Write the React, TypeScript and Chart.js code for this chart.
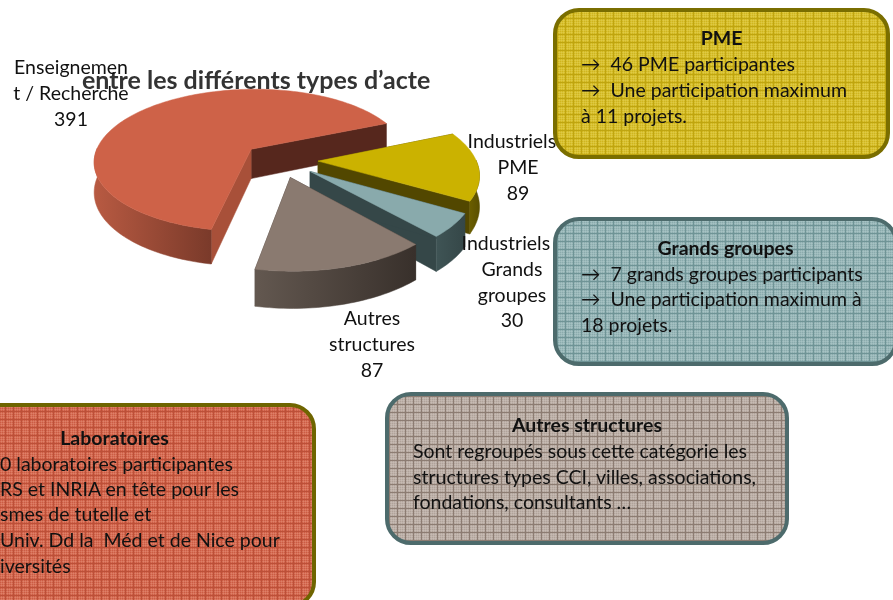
import React, { useEffect, useRef } from "react";
import { Chart, registerables } from "chart.js";

Chart.register(...registerables);

// ---- data ----
const categories = ["Enseignement / Recherche", "Industriels - PME", "Industriels - Grands groupes", "Autres structures"];
const values = [391, 89, 30, 87];
const titleText = "entre les différents types d’acte";
const labelLines = [
  ["Enseignemen", "t / Recherche", "391"],
  ["Industriels -", "PME", "89"],
  ["Industriels -", "Grands", "groupes", "30"],
  ["Autres", "structures", "87"],
];
// ---- slice styles ----
const topColors = ["#CE6248", "#CBB200", "#89AAAC", "#8A7A70"];
const wallStart = ["#A85039", "#524700", "#354748", "#3D332D"];
const wallEnd = ["#56271D", "#524700", "#354748", "#3D332D"];
const wallGradL = ["#B85A42", "#6A5D00", "#3F5455", "#635850"];
const wallGradR = ["#7A3A2A", "#5A4F00", "#354748", "#38302B"];
// ---- label layout: centre x, first-line y ----
const labelAnchors = [
  [71, 68],
  [518, 142],
  [512, 244],
  [372, 319],
];

const FONT = "Lato, 'Open Sans', sans-serif";
const P = 0.001; // perspective strength
const K = 0.46; // vertical squash
const DEPTH = 30;

const pie3d = {
  id: "pie3d",
  beforeDatasetDraw(chart: any) {
    const ctx = chart.ctx;
    const arcs = chart.getDatasetMeta(0).data;
    const proj = (cx: number, cy: number, u: number, v: number, d: number) => {
      const w = 1 - v * P;
      return [cx + u / w, cy + (v * K + d) / w];
    };
    arcs.forEach((arc: any, i: number) => {
      const { x, y, startAngle, endAngle, outerRadius } = arc.getProps(["x", "y", "startAngle", "endAngle", "outerRadius"], true);
      const off = arc.options.offset || 0;
      const mid = (startAngle + endAngle) / 2;
      const ox = Math.cos(mid) * off;
      const oy = Math.sin(mid) * off;
      const n = Math.max(8, Math.ceil((endAngle - startAngle) * 40));
      const rim: number[][] = [];
      const front: number[][] = [];
      for (let j = 0; j <= n; j++) {
        const a = startAngle + ((endAngle - startAngle) * j) / n;
        const q = [ox + Math.cos(a) * outerRadius, oy + Math.sin(a) * outerRadius];
        rim.push(q);
        if (Math.sin(a) >= -0.02) front.push(q);
      }
      const p = (q: number[], d: number) => proj(x, y, q[0], q[1], d);
      const poly = (pts: number[][], fill: any) => {
        ctx.beginPath();
        pts.forEach((t, k) => (k ? ctx.lineTo(t[0], t[1]) : ctx.moveTo(t[0], t[1])));
        ctx.closePath();
        ctx.fillStyle = fill;
        ctx.fill();
        ctx.strokeStyle = fill;
        ctx.lineWidth = 0.5;
        ctx.stroke();
      };
      const apex = [ox, oy];
      const first = rim[0];
      const last = rim[n];
      // radial walls
      poly([p(apex, 0), p(last, 0), p(last, DEPTH), p(apex, DEPTH)], wallEnd[i]);
      poly([p(apex, 0), p(first, 0), p(first, DEPTH), p(apex, DEPTH)], wallStart[i]);
      // outer wall: only the part that faces the viewer
      if (front.length > 1) {
        const xs = front.map((q) => p(q, 0)[0]);
        const x0 = Math.min(...xs);
        const x1 = Math.max(...xs);
        const g = ctx.createLinearGradient(x0, 0, x1, 0);
        g.addColorStop(0, wallGradL[i]);
        g.addColorStop(1, wallGradR[i]);
        const wall = front.map((q) => p(q, 0)).concat(front.slice().reverse().map((q) => p(q, DEPTH)));
        poly(wall, g);
      }
      // top face
      poly([p(apex, 0), ...rim.map((q) => p(q, 0))], arc.options.backgroundColor);
    });
    return false;
  },
};

const sliceLabels = {
  id: "sliceLabels",
  afterDatasetsDraw(chart: any) {
    const ctx = chart.ctx;
    ctx.save();
    ctx.font = `19.5px ${FONT}`;
    ctx.fillStyle = "#111";
    ctx.textAlign = "center";
    ctx.textBaseline = "middle";
    labelLines.forEach((lines, i) => {
      lines.forEach((t, j) => ctx.fillText(t, labelAnchors[i][0], labelAnchors[i][1] + j * 25.7));
    });
    ctx.restore();
  },
};

const grid = (line: string, dot: string) =>
  [
    `repeating-linear-gradient(0deg, ${line} 0 1px, transparent 1px 8px)`,
    `repeating-linear-gradient(90deg, ${line} 0 1px, transparent 1px 8px)`,
    `repeating-linear-gradient(0deg, ${dot} 0 1px, transparent 1px 2px)`,
    `repeating-linear-gradient(90deg, ${dot} 0 1px, transparent 1px 2px)`,
  ].join(",");

type BoxProps = {
  left: number;
  top: number;
  width: number;
  height: number;
  border: string;
  fill: string;
  line: string;
  dot: string;
};

function Box({ left, top, width, height, border, fill, line, dot }: BoxProps) {
  return (
    <div
      style={{
        position: "absolute",
        left,
        top,
        width,
        height,
        boxSizing: "border-box",
        border: `4px solid ${border}`,
        borderRadius: 26,
        backgroundColor: fill,
        backgroundImage: grid(line, dot),
      }}
    />
  );
}

const lineStyle = (x: number, y: number, bold = false, w?: number): React.CSSProperties => ({
  position: "absolute",
  left: x,
  top: y,
  width: w,
  textAlign: bold ? "center" : "left",
  fontWeight: bold ? 700 : 400,
  whiteSpace: "pre",
  lineHeight: "26px",
});

// text placed at absolute page coordinates, on top of all boxes
function T({ x, y, bold, w, children }: { x: number; y: number; bold?: boolean; w?: number; children: React.ReactNode }) {
  return <div style={lineStyle(x, y - 13, bold, w)}>{children}</div>;
}

export default function App() {
  const ref = useRef<HTMLCanvasElement>(null);
  useEffect(() => {
    const chart = new Chart(ref.current as HTMLCanvasElement, {
      type: "pie",
      data: {
        labels: categories,
        datasets: [{ data: values, backgroundColor: topColors, borderWidth: 0, offset: 38 } as any],
      },
      options: {
        responsive: false,
        animation: false,
        events: [],
        rotation: 191,
        radius: 158,
        layout: { padding: { left: 82, right: 415, top: 0, bottom: 376 } },
        plugins: {
          legend: { display: false },
          tooltip: { enabled: false },
          title: {
            display: true,
            text: titleText,
            align: "start",
            color: "#333333",
            font: { family: FONT, size: 25, weight: "bold", lineHeight: 1.2 },
            padding: { top: 66, bottom: 0 },
          },
        },
      } as any,
      plugins: [pie3d, sliceLabels],
    });
    return () => chart.destroy();
  }, []);
  return (
    <div style={{ position: "fixed", left: 0, top: 0, width: 893, height: 600, overflow: "hidden", background: "#fff", fontFamily: FONT, fontSize: 19.5, color: "#111" }}>
      <canvas ref={ref} width={893} height={600} style={{ position: "absolute", left: 0, top: 0 }} />
      <Box left={553} top={8} width={337} height={151} border="#7A6E00" fill="#D0B61E" line="#BFA510" dot="rgba(240,225,110,0.28)" />
      <Box left={553} top={217} width={345} height={149} border="#4D6B6C" fill="#8BABAD" line="#6F9496" dot="rgba(190,215,215,0.32)" />
      <Box left={385} top={392} width={404} height={153} border="#4D6B6C" fill="#B0A39A" line="#8C7C72" dot="rgba(215,205,198,0.35)" />
      <Box left={-87} top={403} width={403} height={205} border="#6F6500" fill="#CC5C44" line="#BC5038" dot="rgba(240,160,135,0.3)" />

      <T x={553} y={38} bold w={337}>PME</T>
      <T x={581} y={64}>→  46 PME participantes</T>
      <T x={581} y={90}>→  Une participation maximum</T>
      <T x={581} y={116}>à 11 projets.</T>

      <T x={553} y={248} bold w={345}>Grands groupes</T>
      <T x={581} y={274}>→  7 grands groupes participants</T>
      <T x={581} y={299}>→  Une participation maximum à</T>
      <T x={581} y={325}>18 projets.</T>

      <T x={385} y={425} bold w={404}>Autres structures</T>
      <T x={413} y={451}>Sont regroupés sous cette catégorie les</T>
      <T x={413} y={477}>structures types CCI, villes, associations,</T>
      <T x={413} y={502}>fondations, consultants …</T>

      <T x={-87} y={438} bold w={403}>Laboratoires</T>
      <T x={0} y={464}>0 laboratoires participantes</T>
      <T x={0} y={489}>RS et INRIA en tête pour les</T>
      <T x={0} y={514}>smes de tutelle et</T>
      <T x={0} y={540}>Univ. Dd la  Méd et de Nice pour</T>
      <T x={0} y={566}>iversités</T>
    </div>
  );
}
